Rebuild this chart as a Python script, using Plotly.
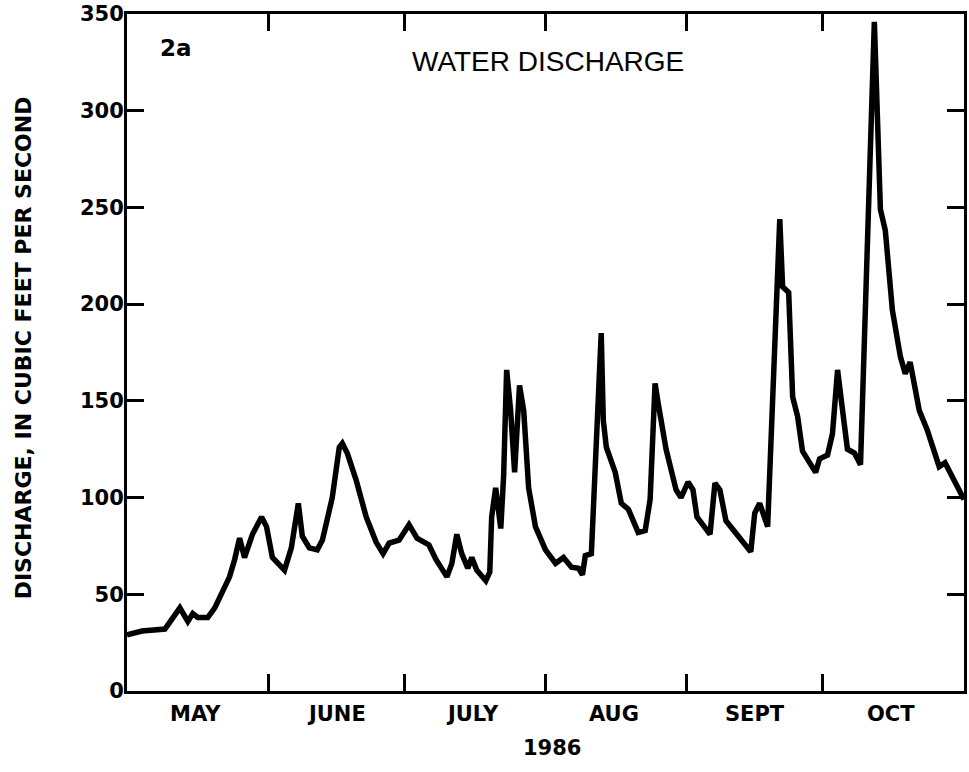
import plotly.graph_objects as go

# Daily-flow hydrograph, water discharge, May-October 1986
dates = [
    "1986-05-01 00:00", "1986-05-04 07:00", "1986-05-09 08:00", "1986-05-12 15:00",
    "1986-05-14 09:00", "1986-05-15 11:00", "1986-05-16 13:00", "1986-05-18 18:00",
    "1986-05-20 07:00", "1986-05-22 11:00", "1986-05-23 13:00", "1986-05-24 16:00",
    "1986-05-25 18:00", "1986-05-26 20:00", "1986-05-28 14:00", "1986-05-30 14:00",
    "1986-05-31 16:00", "1986-06-01 23:00", "1986-06-03 23:00", "1986-06-04 15:00",
    "1986-06-06 03:00", "1986-06-07 16:00", "1986-06-08 13:00", "1986-06-10 02:00",
    "1986-06-11 20:00", "1986-06-12 23:00", "1986-06-15 03:00", "1986-06-16 16:00",
    "1986-06-17 08:00", "1986-06-18 10:00", "1986-06-20 09:00", "1986-06-22 14:00",
    "1986-06-24 18:00", "1986-06-26 07:00", "1986-06-27 15:00", "1986-06-29 19:00",
    "1986-07-02 00:00", "1986-07-03 18:00", "1986-07-06 09:00", "1986-07-07 22:00",
    "1986-07-10 08:00", "1986-07-11 10:00", "1986-07-12 12:00", "1986-07-13 14:00",
    "1986-07-14 22:00", "1986-07-15 19:00", "1986-07-16 21:00", "1986-07-18 21:00",
    "1986-07-19 18:00", "1986-07-20 04:00", "1986-07-21 01:00", "1986-07-22 04:00",
    "1986-07-22 19:00", "1986-07-23 11:00", "1986-07-24 08:00", "1986-07-25 05:00",
    "1986-07-26 07:00", "1986-07-27 05:00", "1986-07-28 07:00", "1986-07-29 19:00",
    "1986-08-01 00:00", "1986-08-03 05:00", "1986-08-04 23:00", "1986-08-06 17:00",
    "1986-08-08 06:00", "1986-08-09 03:00", "1986-08-09 18:00", "1986-08-11 02:00",
    "1986-08-13 06:00", "1986-08-13 17:00", "1986-08-14 09:00", "1986-08-16 08:00",
    "1986-08-17 16:00", "1986-08-19 05:00", "1986-08-21 09:00", "1986-08-22 22:00",
    "1986-08-24 00:00", "1986-08-25 02:00", "1986-08-25 18:00", "1986-08-27 12:00",
    "1986-08-29 17:00", "1986-08-30 19:00", "1986-09-01 08:00", "1986-09-02 10:00",
    "1986-09-03 07:00", "1986-09-06 04:00", "1986-09-07 06:00", "1986-09-08 08:00",
    "1986-09-09 16:00", "1986-09-12 07:00", "1986-09-15 03:00", "1986-09-16 00:00",
    "1986-09-17 02:00", "1986-09-18 20:00", "1986-09-21 12:00", "1986-09-22 03:00",
    "1986-09-23 11:00", "1986-09-24 08:00", "1986-09-25 10:00", "1986-09-26 12:00",
    "1986-09-28 06:00", "1986-09-29 09:00", "1986-09-30 06:00", "1986-10-02 00:00",
    "1986-10-03 02:00", "1986-10-04 05:00", "1986-10-05 01:00", "1986-10-06 09:00",
    "1986-10-07 22:00", "1986-10-09 06:00", "1986-10-12 07:00", "1986-10-13 15:00",
    "1986-10-14 17:00", "1986-10-16 06:00", "1986-10-18 00:00", "1986-10-19 02:00",
    "1986-10-20 04:00", "1986-10-22 04:00", "1986-10-23 22:00", "1986-10-26 13:00",
    "1986-10-27 20:00", "1986-10-29 20:00", "1986-10-31 14:00", "1986-11-01 00:00",
]

discharge_cfs = [
    29, 31, 32, 43,
    36, 40, 38, 38,
    43, 54, 59, 68,
    79, 69, 81, 90,
    85, 69, 64, 62.5,
    74, 97, 80, 74,
    73, 78, 100, 126,
    128, 123, 109, 90,
    77, 71, 76.5, 78,
    86, 79, 75.5, 68,
    59, 66, 81, 71,
    63.5, 69, 62.5, 57,
    61.5, 90, 105, 84,
    111, 166, 145, 113,
    158, 145, 105, 85,
    73, 66, 69, 64,
    63.5, 60, 70, 71,
    185, 140, 126, 113,
    97, 94, 82, 83,
    99, 159, 149, 125,
    104, 100, 108, 104,
    90, 81, 107.5, 104,
    88, 80, 72, 92,
    97, 85, 244, 209,
    206, 152, 142, 124,
    118, 113, 120, 122,
    133, 166, 150, 125,
    123, 117, 346, 249,
    238, 197, 173, 164,
    170, 145, 135, 116,
    118, 109, 100, 99,
]

# Month boundaries (tick marks) and mid-month label positions
x_range = ["1986-05-01", "1986-11-01"]
month_starts = ["1986-06-01", "1986-07-01", "1986-08-01", "1986-09-01", "1986-10-01"]
month_label_pos = ["1986-05-16", "1986-06-16", "1986-07-16", "1986-08-16",
                   "1986-09-16", "1986-10-16"]
month_labels = ["MAY", "JUNE", "JULY", "AUG", "SEPT", "OCT"]
y_ticks = [0, 50, 100, 150, 200, 250, 300, 350]

W, H = 969, 772
L, R, T, B = 127, 2, 14, 81
plot_w = W - L - R
plot_h = H - B - T

bold = dict(family="DejaVu Sans", size=21, color="black", weight="bold")


def py(px):
    """Paper y-coordinate for a pixel row."""
    return (H - B - px) / plot_h


def px_x(px):
    """Paper x-coordinate for a pixel column."""
    return (px - L) / plot_w


fig = go.Figure()
fig.add_trace(go.Scatter(
    x=dates, y=discharge_cfs, mode="lines",
    line=dict(color="black", width=5.5),
    hoverinfo="skip", showlegend=False,
))

# month names centred under each month
month_annotations = [
    dict(text=name, x=pos, xref="x", y=py(714), yref="paper",
         showarrow=False, xanchor="center", yanchor="middle", font=bold)
    for name, pos in zip(month_labels, month_label_pos)
]

fig.update_layout(
    width=W, height=H,
    margin=dict(l=L, r=R, t=T, b=B),
    paper_bgcolor="white", plot_bgcolor="white",
    xaxis=dict(
        range=x_range, type="date",
        tickmode="array", tickvals=month_starts, showticklabels=False,
        ticks="inside", ticklen=17, tickwidth=2.5, tickcolor="black",
        showline=True, linecolor="black", linewidth=3, mirror="allticks",
        showgrid=False, zeroline=False,
    ),
    yaxis=dict(
        range=[0, 350], tickmode="array", tickvals=y_ticks,
        ticks="inside", ticklen=17, tickwidth=2.5, tickcolor="black",
        tickfont=bold, ticklabelstandoff=-4,
        showline=True, linecolor="black", linewidth=3, mirror="allticks",
        showgrid=False, zeroline=False,
    ),
    annotations=month_annotations + [
        dict(text="2a", xref="paper", yref="paper",
             x=px_x(176), y=py(48),
             showarrow=False, xanchor="center", yanchor="middle",
             font=dict(family="DejaVu Sans", size=23, color="black", weight="bold")),
        dict(text="WATER DISCHARGE", xref="paper", yref="paper",
             x=px_x(550), y=py(62),
             showarrow=False, xanchor="center", yanchor="middle",
             font=dict(family="Liberation Sans", size=28, color="black")),
        dict(text="1986", xref="paper", yref="paper",
             x=px_x(554), y=py(748),
             showarrow=False, xanchor="center", yanchor="middle", font=bold),
        dict(text="DISCHARGE, IN CUBIC FEET PER SECOND", xref="paper", yref="paper",
             x=px_x(23), y=py(348),
             showarrow=False, xanchor="center", yanchor="middle", textangle=-90,
             font=dict(family="DejaVu Sans", size=22, color="black", weight="bold")),
    ],
)

fig.write_html("out.html")
